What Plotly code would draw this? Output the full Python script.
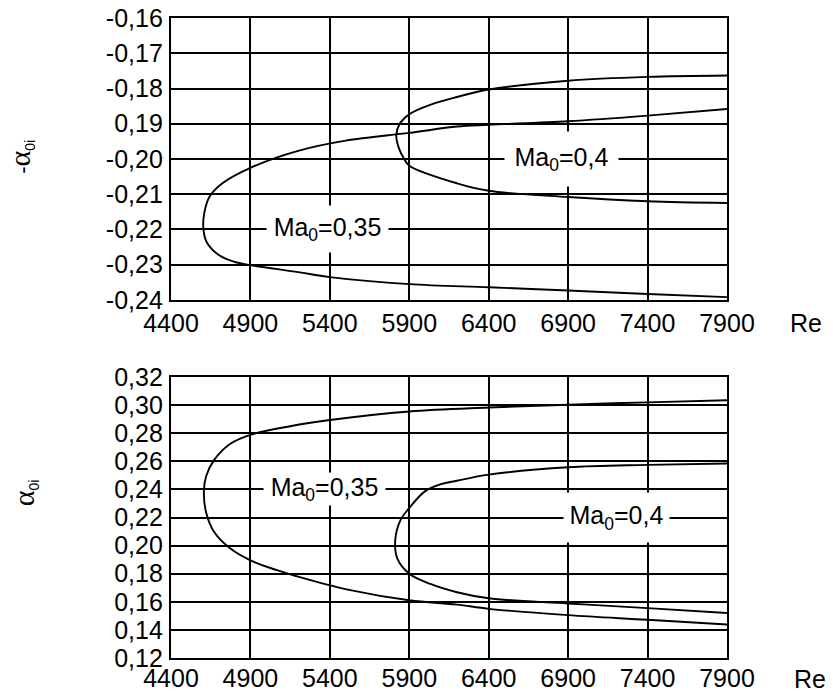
import plotly.graph_objects as go

# ---------------- data ----------------
re_ticks = [4400, 4900, 5400, 5900, 6400, 6900, 7400, 7900]
re_ticktext = ["4400", "4900", "5400", "5900", "6400", "6900", "7400", "7900"]

top_ticks = [-0.16, -0.17, -0.18, -0.19, -0.20, -0.21, -0.22, -0.23, -0.24]
top_ticktext = ["-0,16", "-0,17", "-0,18", "0,19", "-0,20", "-0,21", "-0,22", "-0,23", "-0,24"]

bot_ticks = [0.32, 0.30, 0.28, 0.26, 0.24, 0.22, 0.20, 0.18, 0.16, 0.14, 0.12]
bot_ticktext = ["0,32", "0,30", "0,28", "0,26", "0,24", "0,22", "0,20", "0,18", "0,16", "0,14", "0,12"]

# top panel (-alpha_0i), Ma0 = 0.35
top35_re = [7900, 7400, 6900, 6400, 6200, 5900, 5500, 5200, 4900, 4726, 4645, 4610, 4604,
            4625, 4706, 4808, 4900, 5200, 5400, 5900, 6400, 6900, 7400, 7900]
top35_a = [-0.1858, -0.1877, -0.1893, -0.1903, -0.1908, -0.1926, -0.1948, -0.1977, -0.2025, -0.2068, -0.2105, -0.2152, -0.2199,
           -0.2236, -0.2274, -0.2293, -0.2301, -0.2321, -0.2335, -0.2355, -0.2364, -0.2373, -0.2383, -0.2392]

# top panel, Ma0 = 0.4
top40_re = [7900, 7400, 6900, 6400, 6200, 6040, 5900, 5840, 5818,
            5835, 5868, 5900, 6200, 6400, 6900, 7400, 7900]
top40_a = [-0.1763, -0.1767, -0.1778, -0.1803, -0.1824, -0.1845, -0.1873, -0.1900, -0.1932,
           -0.1970, -0.2000, -0.2019, -0.2069, -0.2090, -0.2108, -0.2120, -0.2125]

# bottom panel (alpha_0i), Ma0 = 0.35
bot35_re = [7900, 7400, 6900, 6400, 5900, 5400, 5150, 4900, 4776, 4673, 4621, 4607,
            4621, 4673, 4776, 4900, 5067, 5191, 5521, 5900, 6200, 6400, 6900, 7400, 7900]
bot35_a = [0.3035, 0.3020, 0.3003, 0.2983, 0.2955, 0.2894, 0.2850, 0.2789, 0.2727, 0.2612, 0.2494, 0.2388,
           0.2236, 0.2095, 0.1977, 0.1895, 0.1825, 0.1782, 0.1685, 0.1611, 0.1580, 0.1550, 0.1505, 0.1472, 0.1438]

# bottom panel, Ma0 = 0.4
bot40_re = [7900, 7400, 6900, 6400, 6200, 6100, 6000, 5900, 5844, 5812,
            5825, 5900, 6033, 6200, 6400, 6900, 7400, 7900]
bot40_a = [0.2585, 0.2575, 0.2558, 0.2505, 0.2462, 0.2438, 0.2388, 0.2268, 0.2180, 0.2045,
           0.1907, 0.1800, 0.1727, 0.1668, 0.1625, 0.1588, 0.1555, 0.1520]

# ---------------- figure ----------------
FONT = "Arial, Liberation Sans, sans-serif"
fig = go.Figure()

line_style = dict(color="black", width=1.9, shape="spline", smoothing=1.0)
for xs, ys, xa, ya in [(top35_re, top35_a, "x", "y"), (top40_re, top40_a, "x", "y"),
                       (bot35_re, bot35_a, "x2", "y2"), (bot40_re, bot40_a, "x2", "y2")]:
    fig.add_trace(go.Scatter(x=xs, y=ys, mode="lines", line=line_style,
                             xaxis=xa, yaxis=ya, showlegend=False, hoverinfo="skip"))

axis_common = dict(showgrid=True, gridcolor="black", gridwidth=1.7,
                   showline=True, linecolor="black", linewidth=2.4, mirror=True,
                   zeroline=False, ticks="", ticklen=0, automargin=False,
                   ticklabeloverflow="allow",
                   tickfont=dict(family=FONT, size=25, color="black"))

fig.update_layout(
    width=833, height=700,
    margin=dict(l=163, r=114, t=10, b=50),
    paper_bgcolor="white", plot_bgcolor="white",
    font=dict(family=FONT, color="black"),
    xaxis=dict(domain=[0, 1], anchor="y", range=[4400, 7900], tickvals=re_ticks,
               ticktext=re_ticktext, ticklabelstandoff=0, **axis_common),
    yaxis=dict(domain=[0.5594, 1], anchor="x", range=[-0.24, -0.16], tickvals=top_ticks,
               ticktext=top_ticktext, ticklabelstandoff=1, **axis_common),
    xaxis2=dict(domain=[0, 1], anchor="y2", range=[4400, 7900], tickvals=re_ticks,
                ticktext=re_ticktext, ticklabelstandoff=-3, **axis_common),
    yaxis2=dict(domain=[0, 0.439], anchor="x2", range=[0.12, 0.32], tickvals=bot_ticks,
                ticktext=bot_ticktext, ticklabelstandoff=1, **axis_common),
)

label_font = dict(family=FONT, size=25, color="black")
labels = [
    ("x", "y", 5387, -0.2200, "Ma<sub>0</sub>=0,35", 121, 46),
    ("x", "y", 6856, -0.2000, "Ma<sub>0</sub>=0,4", 113, 54),
    ("x2", "y2", 5365, 0.2400, "Ma<sub>0</sub>=0,35", 121, 32),
    ("x2", "y2", 7207, 0.2200, "Ma<sub>0</sub>=0,4", 105, 49),
]
for xr, yr, x, y, t, w, h in labels:
    fig.add_annotation(xref=xr, yref=yr, x=x, y=y, text=t, showarrow=False,
                       bgcolor="white", width=w, height=h, font=label_font,
                       xanchor="center", yanchor="middle", borderpad=0)

# axis titles and "Re"
alpha = "<span style='font-family:Liberation Serif;font-size:30px'>α</span>"
sub = "<sub><span style='font-size:14px'>0i</span></sub>"
fig.add_annotation(xref="paper", yref="paper", x=-0.27, y=0.783, textangle=-90,
                   xanchor="center", yanchor="middle",
                   text="-" + alpha + sub,
                   showarrow=False, font=dict(family=FONT, size=22, color="black"))
fig.add_annotation(xref="paper", yref="paper", x=-0.262, y=0.258, textangle=-90,
                   xanchor="center", yanchor="middle",
                   text=alpha + sub,
                   showarrow=False, font=dict(family=FONT, size=22, color="black"))
fig.add_annotation(xref="paper", yref="paper", x=1.142, y=0.523, text="Re",
                   xanchor="center", yanchor="middle",
                   showarrow=False, font=dict(family=FONT, size=25, color="black"))
fig.add_annotation(xref="paper", yref="paper", x=1.149, y=-0.033, text="Re",
                   xanchor="center", yanchor="middle",
                   showarrow=False, font=dict(family=FONT, size=25, color="black"))

fig.write_html("out.html")
